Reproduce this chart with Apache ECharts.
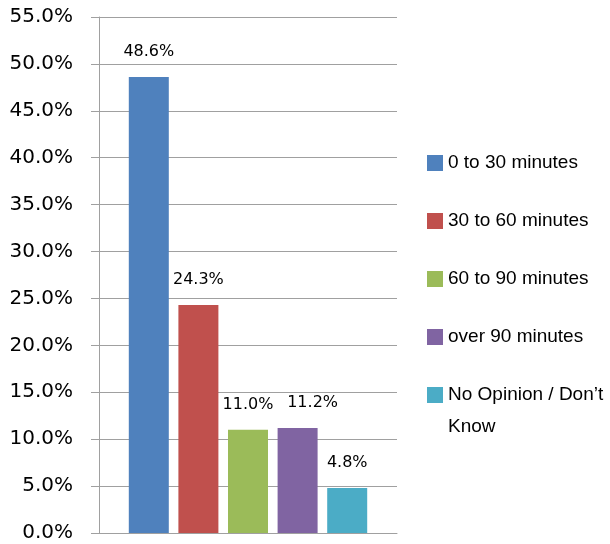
<!DOCTYPE html>
<html><head><meta charset="utf-8">
<script src="https://cdn.jsdelivr.net/npm/echarts@6/dist/echarts.min.js"></script>
<style>html,body{margin:0;padding:0;background:#fff}#c{width:610px;height:544px}</style>
</head><body><div id="c"></div>
<script>
const seriesNames = ['0 to 30 minutes', '30 to 60 minutes', '60 to 90 minutes', 'over 90 minutes', 'No Opinion / Don\u2019t Know'];
const seriesValues = [48.6, 24.3, 11.0, 11.2, 4.8];
const seriesColors = ['#4F81BD', '#C0504D', '#9BBB59', '#8064A2', '#4BACC6'];
const categories = [''];

const chart = echarts.init(document.getElementById('c'));
const legendFont = "'Liberation Sans', Arial, sans-serif";
chart.setOption({
  animation: false,
  grid: { left: 99, right: 213, top: 17, bottom: 11 },
  xAxis: {
    type: 'category', data: categories,
    axisLine: { show: true, lineStyle: { color: '#a0a0a0' } },
    axisTick: { show: false }, axisLabel: { show: false }
  },
  yAxis: {
    type: 'value', min: 0, max: 55, interval: 5,
    axisLine: { show: true, lineStyle: { color: '#a0a0a0' } },
    axisTick: { show: true, length: 8, lineStyle: { color: '#a0a0a0' } },
    splitLine: { show: true, lineStyle: { color: '#a0a0a0' } },
    axisLabel: { margin: 26, color: '#000', fontFamily: 'DejaVu Sans', fontSize: 20,
      formatter: v => v.toFixed(1) + '%' }
  },
  legend: {
    orient: 'vertical', left: 427, top: 147, padding: 0,
    itemWidth: 16, itemHeight: 16, itemGap: 26,
    icon: 'rect',
    data: seriesNames,
    textStyle: { color: '#000', fontFamily: legendFont, fontSize: 19, lineHeight: 32 },
    formatter: n => n === seriesNames[4] ? 'No Opinion / Don\u2019t' : n
  },
  graphic: [{
    type: 'text', x: 448, y: 427,
    style: { text: 'Know', fill: '#000', font: "19px " + legendFont, verticalAlign: 'middle' }
  }],
  series: seriesNames.map((name, i) => ({
    name: name, type: 'bar', barWidth: 40, barGap: '24%',
    itemStyle: { color: seriesColors[i] },
    data: [seriesValues[i]],
    label: { show: true, position: 'top', distance: 17, color: '#000',
      fontFamily: 'DejaVu Sans', fontSize: 16,
      offset: i === 3 ? [15, 0] : [0, 0],
      formatter: p => p.value.toFixed(1) + '%' }
  }))
});
</script></body></html>
